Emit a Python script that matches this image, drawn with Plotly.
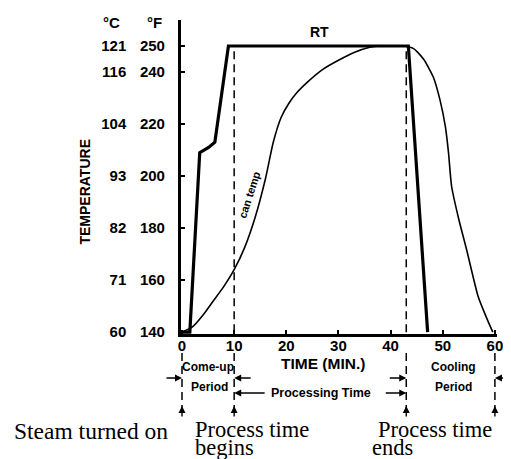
import plotly.graph_objects as go

# ---------------- data ----------------
time_rt = [0, 1.5, 3.4, 5.1, 6.3, 8.9, 43.4, 47.1]
temp_rt = [140, 140, 209, 211, 213, 250, 250, 140]

time_can = [0, 2, 4, 6, 8, 10, 12, 14, 16, 17.5, 19, 20.5, 22, 24, 27, 30, 33, 36, 38,
            42.5, 44.4, 46.3, 48.2, 49.5, 50.5, 51.1, 51.7, 53.0, 54.6, 56.8, 58.3, 59.6]
temp_can = [140, 142, 146.5, 152, 157.5, 164, 172.5, 184, 199, 213, 222.5, 228, 232, 236,
            241, 244.5, 247.5, 249.5, 250,
            250, 249, 245, 238, 229, 219, 209, 196, 184, 171.5, 153.6, 146, 140]

f_ticks = [140, 160, 180, 200, 220, 240, 250]
f_labels = ["140", "160", "180", "200", "220", "240", "250"]
c_labels = ["60", "71", "82", "93", "104", "116", "121"]
x_ticks = [0, 10, 20, 30, 40, 50, 60]

steam_on = 0
process_begin = 10
process_end = 43.0
cycle_end = 60

# ---------------- layout helpers ----------------
OFF = 8                      # page body margin
W, H = 511 - OFF, 459 - OFF
L, R, T, B = 2, 14, 12, 125
PW, PH = W - L - R, H - T - B


def px(x):
    """window pixel x -> paper fraction"""
    return (x - OFF - L) / PW


def py(y):
    """window pixel y -> paper fraction"""
    return (H - B - (y - OFF)) / PH


SANS = "Liberation Sans"
SERIF = "Liberation Serif"
BLK = "black"

fig = go.Figure()
fig.add_trace(go.Scatter(x=time_can, y=temp_can, mode="lines",
                         line=dict(color=BLK, width=1.6, shape="spline", smoothing=0.6),
                         hoverinfo="skip", showlegend=False))
fig.add_trace(go.Scatter(x=time_rt, y=temp_rt, mode="lines",
                         line=dict(color=BLK, width=3.2),
                         hoverinfo="skip", showlegend=False))
fig.add_trace(go.Scatter(x=[None], y=[None], yaxis="y2", showlegend=False, hoverinfo="skip"))

tickfont = dict(family=SANS, size=15, color=BLK, weight="bold")

fig.update_layout(
    width=W, height=H,
    margin=dict(l=L, r=R, t=T, b=B),
    paper_bgcolor="white", plot_bgcolor="white",
    showlegend=False,
    xaxis=dict(domain=[px(179), 1], range=[-0.2, 60.4], tickvals=x_ticks,
               ticks="inside", ticklen=4, tickwidth=1.5, tickcolor=BLK,
               showline=True, linewidth=3, linecolor=BLK, mirror=False,
               showgrid=False, zeroline=False, tickfont=tickfont,
               ticklabelstandoff=-4, anchor="y"),
    yaxis=dict(range=[139.3, 260], tickvals=f_ticks, ticktext=f_labels,
               ticks="inside", ticklen=4, tickwidth=1.5, tickcolor=BLK,
               showline=True, linewidth=3, linecolor=BLK,
               showgrid=False, zeroline=False, tickfont=tickfont,
               ticklabelstandoff=10, anchor="x"),
    yaxis2=dict(range=[139.3, 260], tickvals=f_ticks, ticktext=c_labels,
                overlaying="y", anchor="free", position=px(124), side="left",
                ticks="", showline=False, showgrid=False, zeroline=False,
                tickfont=tickfont),
)

dash = dict(color=BLK, width=1.5, dash="8px,5px")
# dashed process lines inside the plot
for t in (process_begin, process_end):
    fig.add_shape(type="line", xref="x", yref="y", x0=t, x1=t, y0=140, y1=250, line=dash)
# dashed guide lines under the axis
for t in (steam_on, process_begin, process_end, cycle_end):
    fig.add_shape(type="line", xref="x", yref="paper", x0=t, x1=t,
                  y0=py(353), y1=py(408), line=dash)

ann = []


def text(s, x, y, size, xref="paper", yref="paper", font=SANS, bold=True, angle=0):
    ann.append(dict(text=s, x=x, y=y, xref=xref, yref=yref, showarrow=False,
                    xanchor="center", yanchor="middle", textangle=angle,
                    font=dict(family=font, size=size, color=BLK,
                              weight="bold" if bold else "normal")))


def arrow(x, y_px, ax, ay):
    ann.append(dict(text="", x=x, y=py(y_px), xref="x", yref="paper",
                    ax=ax, ay=ay, showarrow=True, arrowhead=2, arrowsize=1,
                    arrowwidth=1.4, arrowcolor=BLK))


text("°C", px(109), py(22), 15)
text("°F", px(152), py(22), 15)
text("TEMPERATURE", px(82), py(192), 14, angle=-90)
text("RT", 26.3, 255.5, 14, xref="x", yref="y")
text("can temp", 13.0, 193, 11, xref="x", yref="y", angle=-72)
text("TIME (MIN.)", px(322), py(363), 15.5)
text("Come-up", 5.0, py(367), 12, xref="x")
text("Period", 5.3, py(387), 12, xref="x")
text("Cooling", 52.0, py(367), 12, xref="x")
text("Period", 52.0, py(387), 12, xref="x")
text("Processing Time", 26.7, py(393), 12.5, xref="x")
text("Steam turned on", px(88), py(431), 23.5, font=SERIF, bold=False)
text("Process time", px(250), py(429), 22.5, font=SERIF, bold=False)
text("begins", px(223), py(447), 22.5, font=SERIF, bold=False)
text("Process time", px(435), py(429), 22.5, font=SERIF, bold=False)
text("ends", px(392), py(447), 22.5, font=SERIF, bold=False)

# period arrows
arrow(steam_on, 378, -17, 0)
arrow(process_begin, 378, 18, 0)
arrow(process_end, 378, -18, 0)
arrow(cycle_end, 378, 16, 0)
arrow(process_begin, 393, 32, 0)
arrow(process_end, 393, -22, 0)
# upward event arrows
for t in (steam_on, process_begin, process_end, cycle_end):
    arrow(t, 406, 0, 12)

fig.update_layout(annotations=ann)
fig.write_html("out.html")
